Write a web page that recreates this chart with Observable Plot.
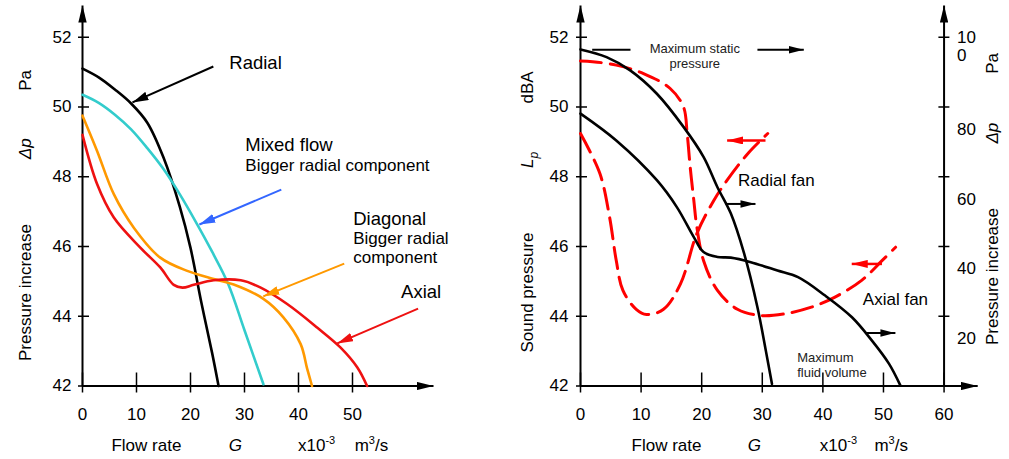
<!DOCTYPE html>
<html><head><meta charset="utf-8">
<script src="https://cdn.jsdelivr.net/npm/d3@7"></script>
<script src="https://cdn.jsdelivr.net/npm/@observablehq/plot@0.6"></script>
<style>
body{margin:0;background:#fff;}
#wrap{position:relative;width:1009px;height:459px;overflow:hidden;}
#wrap svg{position:absolute;top:0;}
</style></head><body><div id="wrap"></div>
<script>
// ---------- DATA ----------
const pressureTicks = [42, 44, 46, 48, 50, 52];
const flowTicksLeft = [0, 10, 20, 30, 40, 50];
const flowTicksRight = [0, 10, 20, 30, 40, 50, 60];
const rightAxisLabels = ["20", "40", "60", "80", "10\n0"];
const rightAxisValues = [43.38, 45.39, 47.37, 49.38, 51.74];

// Left panel: pressure increase curves (flow ×10^-3 m³/s, Pa)
const radialX = [0, 3, 6, 9, 12, 15, 18, 20, 22, 24, 25.2];
const radialY = [51.1, 50.85, 50.5, 50.1, 49.55, 48.55, 47.15, 45.96, 44.4, 42.95, 42.0];
const mixedX = [0, 3, 6, 9, 12, 15, 18, 21, 24, 27, 30, 33.5];
const mixedY = [50.35, 50.12, 49.78, 49.36, 48.82, 48.22, 47.5, 46.7, 45.85, 44.92, 43.6, 42.05];
const diagX = [0, 2.7, 5.8, 9.5, 14.4, 19.4, 24.3, 28, 33.5, 37.2, 40.4, 41.6, 42.5];
const diagY = [49.75, 48.74, 47.5, 46.54, 45.68, 45.3, 45.07, 44.91, 44.5, 43.97, 43.2, 42.5, 42.0];
const axialX = [0, 2.7, 5.8, 10.7, 14.4, 16.9, 18.5, 20.6, 24.3, 29.3, 33, 37.9, 43.5, 47.8, 50.9, 52.7];
const axialY = [49.2, 47.79, 46.83, 45.97, 45.4, 44.9, 44.82, 44.9, 45.03, 45.03, 44.82, 44.35, 43.67, 43.1, 42.53, 42.0];

// Right panel: fan pressure (solid) and sound pressure (dashed)
const radialFanX = [0, 4.3, 8.2, 12.6, 17, 20.3, 22.6, 24.8, 27, 29.2, 30.6, 31.6];
const radialFanY = [51.65, 51.43, 51.05, 50.38, 49.43, 48.57, 47.7, 46.95, 45.8, 44.26, 43.0, 42.06];
const axialFanX = [0, 5.9, 12.6, 15.9, 18.7, 20.3, 22.6, 24.8, 28.1, 32.5, 35.9, 40.3, 44.8, 48.1, 50.9, 52.8];
const axialFanY = [49.81, 49.04, 47.9, 47.13, 46.27, 45.84, 45.7, 45.68, 45.55, 45.31, 45.12, 44.6, 43.97, 43.3, 42.64, 42.01];
const soundAxialX = [0, 2, 5.9, 10.4, 14.8, 17, 17.6, 18.1, 18.7, 19.2, 20.3, 22.6, 25.9, 29.8, 33.7, 38.1, 42, 46.4, 49.8, 52];
const soundAxialY = [51.32, 51.3, 51.2, 50.96, 50.53, 50.0, 49.24, 48.28, 47.32, 46.56, 45.6, 44.74, 44.2, 44.02, 44.07, 44.26, 44.55, 45.03, 45.6, 45.98];
const soundRadialX = [0, 3.2, 4.8, 5.9, 7, 9.2, 10.9, 13.7, 16.5, 19.2, 22, 24.2, 27.6, 30.9];
const soundRadialY = [49.24, 48.09, 46.84, 45.6, 44.74, 44.2, 44.05, 44.2, 44.93, 46.37, 47.32, 47.9, 48.66, 49.24];

// Annotation arrows (data units)
const leftArrows = [
  {x1: 24.23, y1: 51.16, x2: 9.25, y2: 50.13, c: "black"},
  {x1: 36.81, y1: 47.63, x2: 21.64, y2: 46.63, c: "blue"},
  {x1: 48.47, y1: 45.51, x2: 33.48, y2: 44.57, c: "orange"},
  {x1: 62.15, y1: 44.22, x2: 47.17, y2: 43.22, c: "red"}
];
const rightBlackArrows = [
  {x1: 29.2, y1: 51.64, x2: 36.85, y2: 51.64},
  {x1: 23.93, y1: 47.22, x2: 28.88, y2: 47.22},
  {x1: 47.0, y1: 43.52, x2: 51.97, y2: 43.52}
];
const rightPlainLines = [{x1: 1.93, y1: 51.64, x2: 8.25, y2: 51.64}];
const rightRedArrows = [
  {x1: 30.53, y1: 49.04, x2: 24.2, y2: 49.04},
  {x1: 49.75, y1: 45.5, x2: 44.76, y2: 45.5}
];

// ---------- HELPERS ----------
const FONT = "Liberation Sans, Arial, Helvetica, sans-serif";
const colors = {black: "#000000", cyan: "#33cccc", orange: "#ff9900", red: "#ee1111", blue: "#3366ff", dash: "#ff0000"};
const zip = (xs, ys) => xs.map((x, i) => ({x, y: ys[i]}));
const Y0 = 42, YTOP = 52.91;
const L = {x1: "x1", y1: "y1", x2: "x2", y2: "y2"};

function addMarkers(svg, prefix, specs) {
  const defs = d3.select(svg).insert("defs", ":first-child");
  for (const [id, color, len, half] of specs) {
    defs.append("marker").attr("id", prefix + id)
      .attr("viewBox", `0 ${-half} ${len} ${2 * half}`)
      .attr("refX", len).attr("refY", 0)
      .attr("markerWidth", len).attr("markerHeight", 2 * half)
      .attr("markerUnits", "userSpaceOnUse").attr("orient", "auto")
      .append("path").attr("d", `M0,${-half}L${len},0L0,${half}Z`).attr("fill", color);
  }
}
function attachMarker(svg, label, markerId) {
  d3.select(svg).selectAll(`g[aria-description="${label}"] path, g[aria-description="${label}"] line`)
    .attr("marker-end", `url(#${markerId})`);
}
function richText(svg) {
  d3.select(svg).selectAll("text").each(function () {
    const t = this.textContent;
    if (t === "x10-3") this.innerHTML = 'x10<tspan dy="-7" font-size="11">-3</tspan>';
    else if (t === "m3/s") this.innerHTML = 'm<tspan dy="-7" font-size="11">3</tspan><tspan dy="7">/s</tspan>';
    else if (t === "Lp") this.innerHTML = 'L<tspan dy="5" font-size="12">p</tspan>';
  });
}

function axisMarks(ticksX, xMax, tickLabelPad) {
  return [
    Plot.link([{x1: 0, y1: Y0, x2: xMax, y2: Y0}], {...L, stroke: "black", strokeWidth: 2, ariaDescription: "axis-arrow"}),
    Plot.link([{x1: 0, y1: Y0, x2: 0, y2: YTOP}], {...L, stroke: "black", strokeWidth: 2, ariaDescription: "axis-arrow"}),
    Plot.axisX({ticks: ticksX, tickSize: 20, dy: -13, tickFormat: () => "", strokeWidth: 1.5}),
    Plot.axisX({ticks: ticksX, tickSize: 0, tickPadding: 22, fontSize: 17, fill: "black"}),
    Plot.axisY({ticks: pressureTicks, tickSize: 11, dx: 7, tickFormat: () => "", strokeWidth: 1.5}),
    Plot.axisY({ticks: pressureTicks, tickSize: 0, tickPadding: tickLabelPad, fontSize: 17, fill: "black"})
  ];
}

// ---------- LEFT PANEL ----------
const left = Plot.plot({
  width: 480, height: 459,
  marginLeft: 82, marginRight: 47, marginTop: 5, marginBottom: 73.5,
  x: {domain: [0, 65]}, y: {domain: [Y0, YTOP]},
  style: {fontFamily: FONT, fontSize: "17px", background: "transparent", color: "black"},
  marks: [
    ...axisMarks(flowTicksLeft, 65, 11),
    Plot.line(zip(radialX, radialY), {x: "x", y: "y", stroke: colors.black, strokeWidth: 2.6, curve: "catmull-rom"}),
    Plot.line(zip(mixedX, mixedY), {x: "x", y: "y", stroke: colors.cyan, strokeWidth: 2.6, curve: "catmull-rom"}),
    Plot.line(zip(diagX, diagY), {x: "x", y: "y", stroke: colors.orange, strokeWidth: 2.6, curve: "catmull-rom"}),
    Plot.line(zip(axialX, axialY), {x: "x", y: "y", stroke: colors.red, strokeWidth: 2.6, curve: "catmull-rom"}),
    ...leftArrows.map(a => Plot.link([a], {...L, stroke: colors[a.c], strokeWidth: 2, ariaDescription: "arrow-" + a.c})),
    Plot.text(["Radial"], {x: 27.19, y: 51.25, textAnchor: "start", fontSize: 18.5}),
    Plot.text(["Mixed flow"], {x: 30.15, y: 48.9, textAnchor: "start", fontSize: 18.5}),
    Plot.text(["Bigger radial component"], {x: 30.15, y: 48.32, textAnchor: "start", fontSize: 17}),
    Plot.text(["Diagonal"], {x: 50.13, y: 46.8, textAnchor: "start", fontSize: 18.5}),
    Plot.text(["Bigger radial\ncomponent"], {x: 50.13, y: 45.96, textAnchor: "start", fontSize: 17, lineHeight: 1.12}),
    Plot.text(["Axial"], {x: 59.0, y: 44.68, textAnchor: "start", fontSize: 18.5}),
    // axis titles
    Plot.text(["Pressure increase"], {x: 0, y: 44.68, dx: -57, rotate: -90, fontSize: 17}),
    Plot.text(["Δp"], {x: 0, y: 48.8, dx: -57, rotate: -90, fontSize: 17, fontStyle: "italic"}),
    Plot.text(["Pa"], {x: 0, y: 50.76, dx: -57, rotate: -90, fontSize: 17}),
    Plot.text(["Flow rate"], {x: 5.36, y: Y0, dy: 59.5, textAnchor: "start", fontSize: 17}),
    Plot.text(["G"], {x: 28.3, y: Y0, dy: 59.5, fontSize: 17, fontStyle: "italic"}),
    Plot.text(["x10-3"], {x: 39.9, y: Y0, dy: 59.5, textAnchor: "start", fontSize: 17}),
    Plot.text(["m3/s"], {x: 50.4, y: Y0, dy: 59.5, textAnchor: "start", fontSize: 17})
  ]
});
addMarkers(left, "L", [["axis", "black", 17, 4.2], ["black", "black", 16, 4.5], ["blue", colors.blue, 16, 4.5], ["orange", colors.orange, 16, 4.5], ["red", colors.red, 16, 4.5]]);
attachMarker(left, "axis-arrow", "Laxis");
for (const c of ["black", "blue", "orange", "red"]) attachMarker(left, "arrow-" + c, "L" + c);
richText(left);
left.style.left = "0px";

// ---------- RIGHT PANEL ----------
const right = Plot.plot({
  width: 529, height: 459,
  marginLeft: 100, marginRight: 31.8, marginTop: 5, marginBottom: 73.5,
  x: {domain: [0, 65.55]}, y: {domain: [Y0, YTOP]},
  style: {fontFamily: FONT, fontSize: "17px", background: "transparent", color: "black"},
  marks: [
    ...axisMarks(flowTicksRight, 65.55, 12),
    Plot.link([{x1: 60, y1: Y0, x2: 60, y2: YTOP}], {...L, stroke: "black", strokeWidth: 2, ariaDescription: "axis-arrow"}),
    Plot.axisY({anchor: "right", ticks: pressureTicks.slice(1), tickSize: 11, dx: -39.8, tickFormat: () => "", strokeWidth: 1.5}),
    Plot.text(rightAxisLabels, {x: 60, y: (d, i) => rightAxisValues[i], dx: 13, textAnchor: "start", fontSize: 17, lineHeight: 1.08}),
    Plot.line(zip(soundAxialX, soundAxialY), {x: "x", y: "y", stroke: colors.dash, strokeWidth: 3, strokeDasharray: "21,9", curve: "catmull-rom"}),
    Plot.line(zip(soundRadialX, soundRadialY), {x: "x", y: "y", stroke: colors.dash, strokeWidth: 3, strokeDasharray: "21,9", curve: "catmull-rom"}),
    Plot.line(zip(radialFanX, radialFanY), {x: "x", y: "y", stroke: colors.black, strokeWidth: 2.6, curve: "catmull-rom"}),
    Plot.line(zip(axialFanX, axialFanY), {x: "x", y: "y", stroke: colors.black, strokeWidth: 2.6, curve: "catmull-rom"}),
    Plot.link(rightPlainLines, {...L, stroke: "black", strokeWidth: 2}),
    Plot.link(rightBlackArrows, {...L, stroke: "black", strokeWidth: 2, ariaDescription: "arrow-black"}),
    Plot.link(rightRedArrows, {...L, stroke: colors.dash, strokeWidth: 2.5, ariaDescription: "arrow-red"}),
    Plot.text(["Maximum static\npressure"], {x: 18.86, y: 51.46, fontSize: 13, lineHeight: 1.15, fill: "#222"}),
    Plot.text(["Radial fan"], {x: 26.0, y: 47.89, textAnchor: "start", fontSize: 17}),
    Plot.text(["Axial fan"], {x: 46.6, y: 44.48, textAnchor: "start", fontSize: 17}),
    Plot.text(["Maximum\nfluid volume"], {x: 35.77, y: 42.6, textAnchor: "start", fontSize: 13, lineHeight: 1.15, fill: "#222"}),
    // axis titles
    Plot.text(["Sound pressure"], {x: 0, y: 44.68, dx: -53, rotate: -90, fontSize: 17}),
    Plot.text(["Lp"], {x: 0, y: 48.48, dx: -53, rotate: -90, fontSize: 17, fontStyle: "italic"}),
    Plot.text(["dBA"], {x: 0, y: 50.56, dx: -53, rotate: -90, fontSize: 17}),
    Plot.text(["Pressure increase"], {x: 60, y: 45.14, dx: 48.5, rotate: -90, fontSize: 17}),
    Plot.text(["Δp"], {x: 60, y: 49.25, dx: 48.5, rotate: -90, fontSize: 17, fontStyle: "italic"}),
    Plot.text(["Pa"], {x: 60, y: 51.25, dx: 48.5, rotate: -90, fontSize: 17}),
    Plot.text(["Flow rate"], {x: 8.42, y: Y0, dy: 59.5, textAnchor: "start", fontSize: 17}),
    Plot.text(["G"], {x: 28.7, y: Y0, dy: 59.5, fontSize: 17, fontStyle: "italic"}),
    Plot.text(["x10-3"], {x: 39.5, y: Y0, dy: 59.5, textAnchor: "start", fontSize: 17}),
    Plot.text(["m3/s"], {x: 48.5, y: Y0, dy: 59.5, textAnchor: "start", fontSize: 17})
  ]
});
addMarkers(right, "R", [["axis", "black", 17, 4.2], ["black", "black", 15, 3.8], ["red", colors.dash, 16, 4]]);
attachMarker(right, "axis-arrow", "Raxis");
attachMarker(right, "arrow-black", "Rblack");
attachMarker(right, "arrow-red", "Rred");
richText(right);
right.style.left = "480px";

document.getElementById("wrap").append(left, right);
</script>
</body></html>
